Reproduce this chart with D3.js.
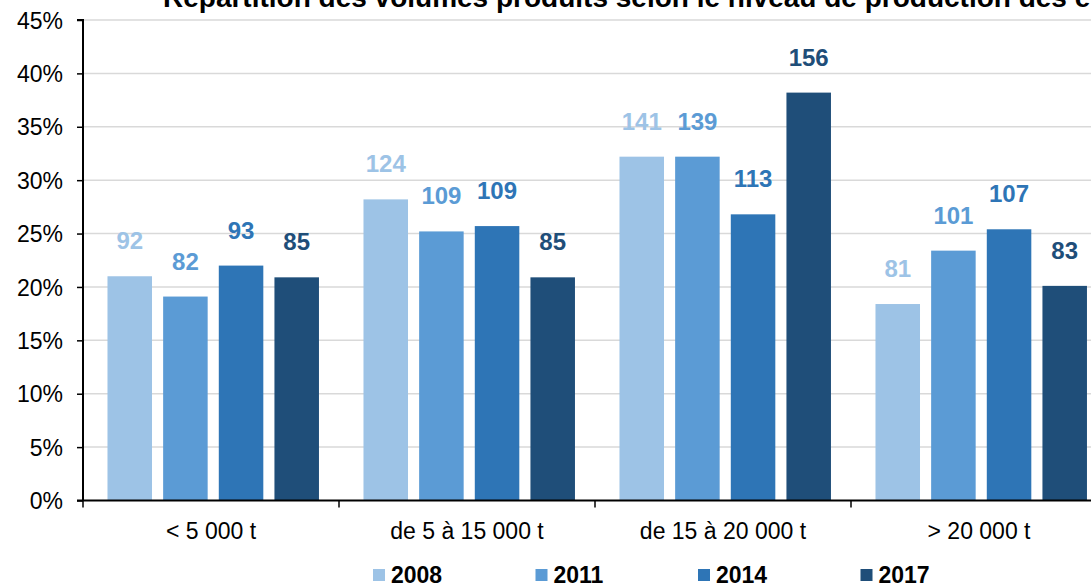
<!DOCTYPE html>
<html>
<head>
<meta charset="utf-8">
<script src="https://cdn.jsdelivr.net/npm/d3@7"></script>
<style>
  html, body { margin: 0; padding: 0; background: #fff; }
  svg { display: block; font-family: "Liberation Sans", Arial, sans-serif; }
</style>
</head>
<body>
<svg id="chart" width="1091" height="587"></svg>
<script>
// ---- data ----
const categories = ["< 5 000 t", "de 5 à 15 000 t", "de 15 à 20 000 t", "> 20 000 t"];
const years = ["2008", "2011", "2014", "2017"];
const share2008 = [21.0, 28.2, 32.2, 18.4];
const share2011 = [19.1, 25.2, 32.2, 23.4];
const share2014 = [22.0, 25.7, 26.8, 25.4];
const share2017 = [20.9, 20.9, 38.2, 20.1];
const count2008 = [92, 124, 141, 81];
const count2011 = [82, 109, 139, 101];
const count2014 = [93, 109, 113, 107];
const count2017 = [85, 85, 156, 83];
const yTicks = [0, 5, 10, 15, 20, 25, 30, 35, 40, 45];
const colors = ["#9DC3E6", "#5B9BD5", "#2E75B6", "#1F4E79"];
const title = "Répartition des volumes produits selon le niveau de production des élevages";

(function () {
const shares = [share2008, share2011, share2014, share2017];
const counts = [count2008, count2011, count2014, count2017];

const svg = d3.select("#chart");
const mLeft = 83, mRight = 1107, mTop = 20, mBottom = 500.5;

const y = d3.scaleLinear().domain([0, 45]).range([mBottom, mTop]);
const x0 = d3.scaleBand().domain(categories).range([mLeft, mRight]).padding(0);
const x1 = d3.scaleBand().domain(years).range([0, x0.bandwidth()])
  .paddingInner(0.2).paddingOuter(0.4).align(0.55);
const color = d3.scaleOrdinal().domain(years).range(colors);

// title
svg.append("text")
  .attr("x", 163).attr("y", 7)
  .attr("font-size", 28).attr("font-weight", "bold").attr("fill", "#000")
  .text(title);

// gridlines
svg.append("g").selectAll("line")
  .data(yTicks.filter(d => d > 0))
  .join("line")
  .attr("x1", mLeft).attr("x2", 1091)
  .attr("y1", d => y(d)).attr("y2", d => y(d))
  .attr("stroke", "#D9D9D9").attr("stroke-width", 1.5);

// data rows
const rows = [];
categories.forEach((c, i) => {
  years.forEach((yr, j) => {
    rows.push({ cat: c, year: yr, share: shares[j][i], count: counts[j][i] });
  });
});

// bars
svg.append("g").selectAll("rect")
  .data(rows)
  .join("rect")
  .attr("x", d => x0(d.cat) + x1(d.year))
  .attr("width", x1.bandwidth())
  .attr("y", d => y(d.share))
  .attr("height", d => y(0) - y(d.share))
  .attr("fill", d => color(d.year));

// labels
svg.append("g").selectAll("text")
  .data(rows)
  .join("text")
  .attr("x", d => x0(d.cat) + x1(d.year) + x1.bandwidth() / 2)
  .attr("y", d => y(d.share) - 27)
  .attr("text-anchor", "middle")
  .attr("font-size", 24).attr("font-weight", "bold")
  .attr("fill", d => color(d.year))
  .text(d => d.count);

// y axis
const yAxis = d3.axisLeft(y).tickValues(yTicks).tickFormat(d => d + "%").tickSize(6).tickPadding(14);
const gy = svg.append("g").attr("transform", `translate(${mLeft},0)`).call(yAxis);
gy.select(".domain").attr("stroke", "#000").attr("stroke-width", 2).attr("d", `M-6,${mTop}H0V${mBottom}`);
gy.selectAll(".tick line").attr("stroke", "#000").attr("stroke-width", 1.5);
gy.selectAll(".tick text").attr("font-size", 23).attr("fill", "#000")
  .attr("font-family", "Liberation Sans, Arial, sans-serif").attr("dy", "0.35em");

// x axis
const boundaries = categories.map(c => x0(c));
const gx = svg.append("g").attr("transform", `translate(0,${mBottom})`);
gx.append("line").attr("x1", mLeft - 6).attr("x2", 1091).attr("y1", 0).attr("y2", 0)
  .attr("stroke", "#000").attr("stroke-width", 2);
gx.selectAll("line.tk").data(boundaries).join("line").attr("class", "tk")
  .attr("x1", d => d).attr("x2", d => d).attr("y1", 0).attr("y2", 7)
  .attr("stroke", "#000").attr("stroke-width", 1.5);
gx.selectAll("text").data(categories).join("text")
  .attr("x", d => x0(d) + x0.bandwidth() / 2)
  .attr("y", 38)
  .attr("text-anchor", "middle")
  .attr("font-size", 23).attr("fill", "#000")
  .text(d => d);

// legend
const legend = svg.append("g").selectAll("g")
  .data(years)
  .join("g")
  .attr("transform", (d, i) => `translate(${373 + i * 162.5},0)`);
legend.append("rect").attr("x", 0).attr("y", 569).attr("width", 12).attr("height", 12)
  .attr("fill", d => color(d));
legend.append("text").attr("x", 18).attr("y", 583)
  .attr("font-size", 23).attr("font-weight", "bold").attr("fill", "#000")
  .text(d => d);
})();
</script>
</body>
</html>
